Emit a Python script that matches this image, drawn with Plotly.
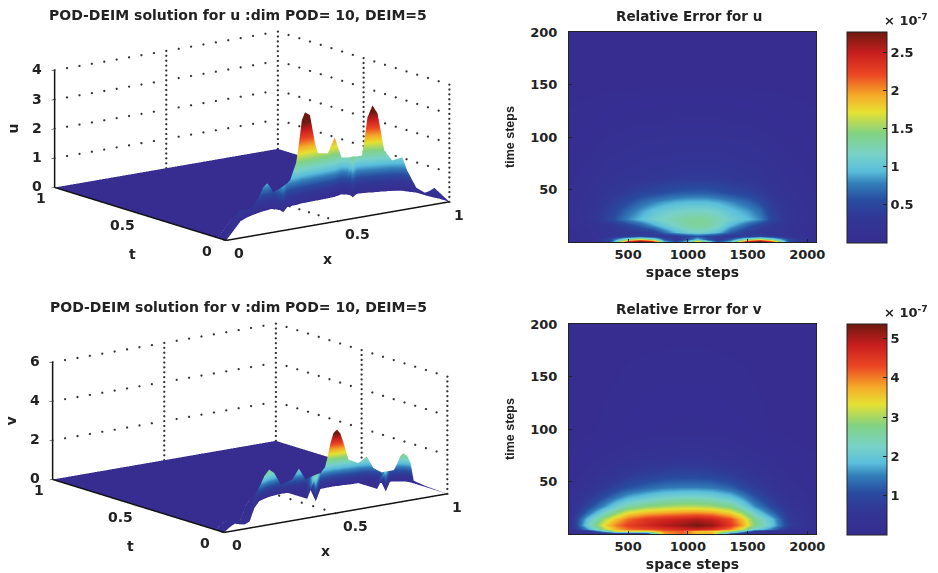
import plotly.graph_objects as go

# ---------- 3-D surface: ridge ----------
u_x = [0,.058,.116,.219,.276,.317,.360,.378,.398,.416,.429,.435,.425,.483,.501,.534,.562,.576,.599,.623,.636,.683,.716,.759,.778,.763,.807,.831,.849,.866,.885,.909,.938,.968,.974,.990,.991,.995,1,1]
u_t = [0,.053,.106,.201,.235,.253,.269,.275,.278,.284,.284,.251,.220,.273,.279,.282,.290,.290,.291,.293,.293,.296,.299,.315,.292,.255,.289,.286,.281,.274,.269,.261,.252,.232,.212,.180,.122,.081,.058,0]
u_z = [0,.07,.11,.38,.27,.22,.62,.82,.92,.75,.56,.75,.89,.82,.89,1.52,2.84,3.09,2.96,1.97,1.61,1.54,2.03,1.26,1.28,1.40,1.28,1.29,2.57,2.97,2.68,1.40,1.04,1.14,.72,.17,.07,.34,.21,0]

v_x = [0,.066,.112,.120,.134,.176,.314,.390,.426,.459,.486,.520,.569,.597,.625,.642,.551,.680,.711,.727,.742,.755,.768,.783,.801,.844,.874,.893,.910,.844,.947,.964,.978,.987,.997,1,1,1,1]
v_t = [0,.052,.083,.064,.053,.080,.232,.303,.321,.335,.341,.347,.343,.341,.339,.332,.183,.323,.326,.326,.328,.324,.322,.323,.317,.315,.306,.292,.266,.156,.265,.258,.247,.240,.228,.214,.196,.126,0]
v_z = [0,.07,.12,.24,.17,.17,.17,.60,1.16,1.40,1.16,.48,.65,1.16,.55,.67,1.37,.82,1.18,2.26,2.74,2.89,2.67,2.15,1.28,1.03,1.33,.74,.55,1.03,.56,.60,1.28,1.45,1.30,.97,.14,.05,0]

x_ticks = [0, .5, 1]
t_ticks = [0, .5, 1]
u_ticks = [0, 1, 2, 3, 4]
v_ticks = [0, 2, 4, 6]
u_color_top = 2.75
v_color_top = 2.7
# how far the floor grid line x=0.5 stays visible before the surface covers it
u_floor_gap = .28
v_floor_gap = .33

# ---------- relative error tables (units of 1e-7) ----------
eu_x = [1,200,350,500,600,700,800,900,1000,1080,1160,1250,1350,1500,1600,1700,1850,2065]
eu_y = [1,3,6,10,16,22,30,38,48,60,75,95,115,150,200]
eu_z = [
 [.05,.1,.5,2.3,2.75,2.4,.9,.5,1.0,1.8,1.1,.5,.9,2.4,2.75,2.2,.5,.05],
 [.05,.12,.5,1.4,1.7,1.4,.6,.3,.6,1.0,.6,.3,.6,1.4,1.7,1.3,.5,.05],
 [.05,.15,.25,.4,.5,.4,.3,.35,.5,.6,.5,.4,.3,.4,.5,.4,.25,.05],
 [.05,.15,.25,.3,.35,.4,.7,.95,1.1,1.15,1.1,.95,.65,.35,.3,.25,.2,.05],
 [.08,.18,.3,.5,.65,.85,1.05,1.2,1.32,1.35,1.32,1.2,.95,.65,.45,.35,.2,.08],
 [.1,.25,.5,.8,.95,1.1,1.2,1.27,1.33,1.35,1.33,1.25,1.1,.95,.8,.5,.25,.1],
 [.1,.25,.45,.7,.85,.98,1.08,1.15,1.18,1.18,1.18,1.12,1.0,.85,.7,.45,.25,.1],
 [.1,.22,.38,.55,.68,.78,.86,.92,.95,.95,.95,.9,.82,.68,.55,.38,.2,.1],
 [.08,.18,.3,.38,.45,.5,.55,.6,.62,.63,.62,.58,.52,.45,.38,.28,.17,.08],
 [.07,.14,.22,.27,.3,.33,.35,.37,.38,.38,.38,.37,.35,.3,.27,.2,.14,.07],
 [.05,.1,.17,.2,.22,.24,.25,.26,.27,.27,.27,.26,.25,.22,.2,.16,.1,.05],
 [.03,.06,.1,.13,.15,.16,.17,.18,.18,.18,.18,.18,.17,.15,.13,.1,.06,.03],
 [.02,.03,.05,.06,.07,.08,.08,.09,.09,.09,.09,.09,.08,.07,.06,.05,.03,.02],
 [.01]*18,
 [.01]*18,
]
ev_x = [1,150,300,400,500,650,800,950,1080,1200,1350,1450,1550,1700,1850,2065]
ev_y = [1,3,5,9,14,20,27,35,45,55,70,85,100,200]
ev_z = [
 [.1,.2,.5,.8,.9,1.2,3.8,4.2,3.6,3.7,1.5,.8,.3,.15,.1,.05],
 [.1,.4,1.9,3.2,3.3,3.2,4.0,4.2,3.6,3.5,3.0,2.0,.8,.3,.15,.05],
 [.2,1.5,3.0,3.7,4.1,4.3,4.5,4.7,4.8,4.6,4.0,3.2,2.2,1.5,.5,.1],
 [.3,2.0,3.4,4.0,4.4,4.7,4.95,5.15,5.35,5.15,4.5,3.8,2.8,2.0,.8,.15],
 [.3,1.8,3.0,3.6,4.1,4.5,4.7,4.85,4.95,4.8,4.3,3.6,2.7,1.9,.7,.15],
 [.25,1.3,2.3,2.9,3.4,3.7,3.85,3.95,4.0,3.9,3.5,3.0,2.2,1.4,.6,.12],
 [.2,.9,1.6,2.1,2.5,2.8,2.95,3.05,3.05,2.95,2.7,2.2,1.6,1.0,.45,.1],
 [.15,.6,1.1,1.45,1.75,2.0,2.2,2.3,2.3,2.2,1.95,1.6,1.15,.7,.3,.1],
 [.1,.35,.65,.9,1.1,1.3,1.45,1.5,1.5,1.45,1.25,1.0,.75,.45,.2,.08],
 [.07,.2,.4,.55,.7,.85,.95,1.0,1.0,.95,.8,.65,.5,.3,.15,.06],
 [.04,.1,.2,.28,.35,.45,.5,.55,.55,.5,.42,.35,.25,.15,.08,.04],
 [.02,.05,.1,.13,.17,.22,.25,.28,.28,.25,.2,.17,.12,.07,.04,.02],
 [.01,.02,.04,.05,.07,.09,.1,.11,.11,.1,.08,.07,.05,.03,.02,.01],
 [.01]*16,
]
eu_cbticks = [.5, 1, 1.5, 2, 2.5]
ev_cbticks = [1, 2, 3, 4, 5]
space_ticks = [500, 1000, 1500, 2000]
time_ticks = [50, 100, 150, 200]

# The page has an 8 px body margin, so the figure sits at (8, 8) in the window.
OFF = 8
W, H = 930, 565
BOLD = "DejaVu Sans"
SANS = "Liberation Sans"
TXT = "#222222"
jet = [[0, "rgb(55,45,145)"], [.12, "rgb(50,55,150)"], [.2, "rgb(40,75,160)"], [.28, "rgb(50,125,185)"],
       [.34, "rgb(90,190,220)"], [.42, "rgb(120,210,200)"], [.52, "rgb(130,210,130)"], [.62, "rgb(230,225,50)"],
       [.70, "rgb(245,170,40)"], [.80, "rgb(235,70,35)"], [.90, "rgb(200,30,30)"], [1, "rgb(110,25,15)"]]


def fx(px):
    return (px - OFF) / W


def fy(px):
    return 1 - (px - OFF) / H


fig = go.Figure()


def solid3d(scene, xs, ys, zs):
    fig.add_trace(go.Scatter3d(
        x=xs, y=ys, z=zs, mode="lines", scene=scene, showlegend=False, hoverinfo="skip",
        line=dict(color="#111111", width=3)))


def dotted3d(scene, a, b, count):
    """Grid line style: a row of round dots between two grid corners."""
    steps = [i / count for i in range(count + 1)]
    fig.add_trace(go.Scatter3d(
        x=[a[0] + (b[0] - a[0]) * s for s in steps],
        y=[a[1] + (b[1] - a[1]) * s for s in steps],
        z=[a[2] + (b[2] - a[2]) * s for s in steps],
        mode="markers", scene=scene, showlegend=False, hoverinfo="skip",
        marker=dict(color="#333333", size=1.3, line=dict(width=0), opacity=1)))


def surface(scene, xv, tv, zv, zticks, floor_gap, color_top):
    zero = [0] * len(xv)
    back = [min(t + .05, 1) for t in tv]
    far = [1] * len(xv)
    fig.add_trace(go.Surface(
        x=[xv, xv, xv, xv], y=[tv, tv, back, far], z=[zero, zv, zero, zero],
        scene=scene, colorscale=jet, cmin=0, cmax=color_top, showscale=False, hoverinfo="skip",
        lighting=dict(ambient=1, diffuse=0, specular=0, roughness=1, fresnel=0),
        contours=dict(x=dict(highlight=False), y=dict(highlight=False), z=dict(highlight=False))))
    ztop = zticks[-1]
    # dotted grid on the two back walls and the uncovered bit of the floor
    for z in zticks[1:]:
        dotted3d(scene, (0, 1, z), (1, 1, z), 18)
        dotted3d(scene, (1, 1, z), (1, 0, z), 16)
    for x in x_ticks[1:]:
        dotted3d(scene, (x, 1, 0), (x, 1, ztop), 24)
    for t in t_ticks[:-1]:
        dotted3d(scene, (1, t, 0), (1, t, ztop), 24)
    dotted3d(scene, (x_ticks[1], 0, 0), (x_ticks[1], floor_gap, 0), 5)
    # solid axes
    solid3d(scene, [0, 1], [0, 0], [0, 0])
    solid3d(scene, [0, 0], [0, 1], [0, 0])
    solid3d(scene, [0, 0], [1, 1], [0, ztop])


surface("scene", u_x, u_t, u_z, u_ticks, u_floor_gap, u_color_top)
surface("scene2", v_x, v_t, v_z, v_ticks, v_floor_gap, v_color_top)


def heat(xa, ya, xv, yv, zv, zmax, cbticks, top, bottom):
    fig.add_trace(go.Heatmap(
        x=xv, y=yv, z=zv, xaxis=xa, yaxis=ya, zsmooth="best", colorscale=jet, zmin=0, zmax=zmax,
        hoverinfo="skip",
        colorbar=dict(
            thicknessmode="pixels", thickness=40, lenmode="pixels", len=bottom - top,
            x=fx(847), xanchor="left", y=fy(top), yanchor="top", ypad=0, xpad=0,
            outlinecolor="#222222", outlinewidth=1, tickvals=cbticks,
            ticks="inside", ticklen=4, tickcolor="#222222",
            tickfont=dict(family=BOLD, size=13, color=TXT, weight="bold"))))


heat("x", "y", eu_x, eu_y, eu_z, 2.77, eu_cbticks, 32, 243)
heat("x2", "y2", ev_x, ev_y, ev_z, 5.37, ev_cbticks, 324, 535)


def axis3d(ticks, rng):
    return dict(
        title=dict(text=""), range=rng, tickvals=ticks, showticklabels=False, showgrid=False,
        zeroline=False, showbackground=False, showspikes=False, showline=False,
        ticks="outside", ticklen=4, tickcolor="#111111")


def label3d(text, x, y, z, dx, dy, size=14, angle=0):
    return dict(text=text, x=x, y=y, z=z, xshift=dx, yshift=dy, textangle=angle, showarrow=False,
                xanchor="center", yanchor="middle",
                font=dict(family=BOLD, size=size, color=TXT, weight="bold"))


def scene(cx, cy, zticks, zname, half_w=225, half_h=125):
    ztop = zticks[-1]
    notes = []
    for x, dx in zip(x_ticks, [13, 20, 10]):
        notes.append(label3d(f"{x:g}", x, 0, 0, dx, -13))
    for t, dx in zip(t_ticks, [-19, -18, -14]):
        notes.append(label3d(f"{t:g}", 0, t, 0, dx, -11))
    for z in zticks:
        notes.append(label3d(f"{z:g}", 0, 1, z, -18, 1))
    notes.append(label3d(zname, 0, 1, ztop / 2, -42, 0, angle=-90))
    notes.append(label3d("t", 0, .5, 0, -8, -40))
    notes.append(label3d("x", .5, 0, 0, -10, -38))
    return dict(
        domain=dict(x=[fx(cx - half_w), fx(cx + half_w)], y=[fy(cy + half_h), fy(cy - half_h)]),
        xaxis=axis3d(x_ticks, [0, 1]),
        yaxis=axis3d(t_ticks, [0, 1]),
        zaxis=axis3d(zticks, [zticks[0], ztop]),
        aspectmode="manual", aspectratio=dict(x=2.23, y=2.29, z=.964),
        bgcolor="white", annotations=notes,
        camera=dict(projection=dict(type="orthographic"),
                    center=dict(x=0, y=0, z=0),
                    up=dict(x=0, y=0, z=1),
                    eye=dict(x=-1.16, y=-1.55, z=.46)))


def axis2d(ticks, rng, dom, title, anchor, standoff, is_y=False):
    ax = dict(
        domain=dom, range=rng, tickvals=ticks, anchor=anchor, showgrid=False, zeroline=False,
        showline=True, linecolor="#222222", linewidth=1, mirror=True, ticks="inside", ticklen=3,
        tickcolor="#222222",
        tickfont=dict(family=BOLD, size=13, color=TXT, weight="bold"),
        title=dict(text=title, standoff=standoff,
                   font=dict(family=SANS if is_y else BOLD, size=12.5 if is_y else 14, color=TXT, weight="bold")))
    if is_y:
        ax["ticklabelstandoff"] = 8
    return ax


annos = []
for txt, px, py, size in [
    ("POD-DEIM solution for u :dim POD= 10, DEIM=5", 238, 15, 14),
    ("POD-DEIM solution for v :dim POD= 10, DEIM=5", 238, 307, 14),
    ("Relative Error for u", 689, 16, 13.5),
    ("Relative Error for v", 689, 309, 13.5),
    ("× 10<sup>-7</sup>", 906, 20, 13),
    ("× 10<sup>-7</sup>", 906, 312, 13),
]:
    annos.append(dict(text=txt, x=fx(px), y=fy(py), xref="paper", yref="paper", showarrow=False,
                      xanchor="center", yanchor="middle",
                      font=dict(family=BOLD, size=size, color=TXT, weight="bold")))

fig.update_layout(
    width=W, height=H, margin=dict(l=0, r=0, t=0, b=0, autoexpand=False), autosize=False,
    paper_bgcolor="white", plot_bgcolor="white", showlegend=False,
    scene=scene(252, 136, u_ticks, "u"),
    scene2=scene(250, 428, v_ticks, "v"),
    xaxis=axis2d(space_ticks, [5, 2073], [fx(569), fx(816)], "space steps", "y", 6),
    yaxis=axis2d(time_ticks, [0, 200], [fy(242), fy(32)], "time steps", "x", 12, True),
    xaxis2=axis2d(space_ticks, [5, 2073], [fx(569), fx(816)], "space steps", "y2", 6),
    yaxis2=axis2d(time_ticks, [0, 200], [fy(534), fy(324)], "time steps", "x2", 12, True),
    annotations=annos,
)
fig.write_html("out.html")
